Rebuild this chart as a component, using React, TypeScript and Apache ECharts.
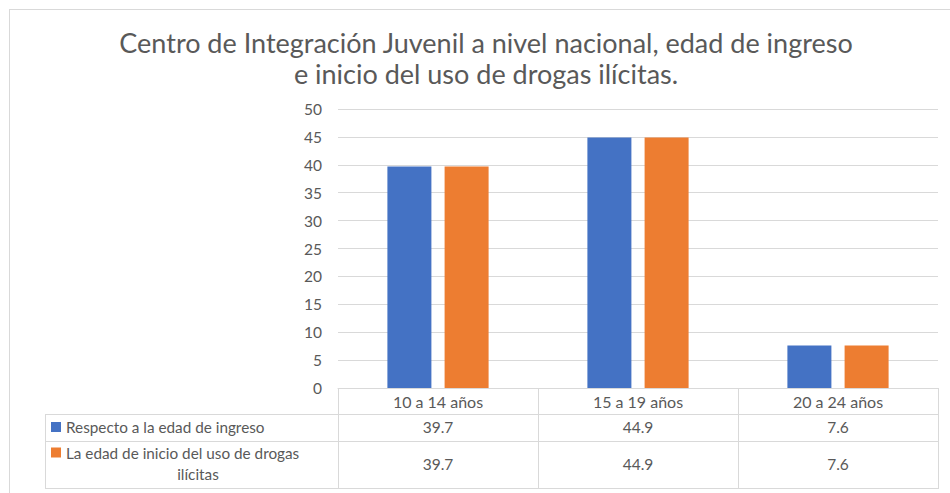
import React, { useEffect, useRef } from "react";
import * as echarts from "echarts";

const titleLines = [
  "Centro de Integración Juvenil a nivel nacional, edad de ingreso",
  "e inicio del uso de drogas ilícitas.",
];
const categories = ["10 a 14 años", "15 a 19 años", "20 a 24 años"];
const seriesNames = [
  "Respecto a la edad de ingreso",
  "La edad de inicio del uso de drogas ilícitas",
];
const ingreso = [39.7, 44.9, 7.6];
const inicio = [39.7, 44.9, 7.6];
const yTicks = { min: 0, max: 50, interval: 5 };

const FONT = "Lato, 'Noto Sans', sans-serif";
const TXT = "#595959";
const LINE = "#d9d9d9";
const COLORS = ["#4472C4", "#ED7D31"];

const W = 950;
const H = 493;
const GRID = { left: 338, top: 109, width: 600, height: 279 };
const TABLE_LEFT = 45;

export default function App() {
  const ref = useRef<HTMLDivElement>(null);
  useEffect(() => {
    if (!ref.current) return;
    const chart = echarts.init(ref.current, undefined, { renderer: "svg" });
    const gBottom = GRID.top + GRID.height;
    const gRight = GRID.left + GRID.width;
    const valueAxis = (vals: number[], offset: number) => ({
      type: "category",
      gridIndex: 0,
      position: "bottom",
      offset,
      data: categories,
      axisLine: { show: false },
      axisTick: { show: false },
      splitLine: { show: false },
      axisLabel: {
        margin: 4,
        fontFamily: FONT,
        fontSize: 15.5,
        lineHeight: 18,
        color: TXT,
        formatter: (_v: string, i: number) => String(vals[i]),
      },
    });
    const hLine = (x1: number, x2: number, y: number) => ({
      type: "line",
      shape: { x1, y1: y + 0.5, x2, y2: y + 0.5 },
      style: { stroke: LINE, lineWidth: 1 },
      silent: true,
    });
    const vLine = (x: number, y1: number, y2: number) => ({
      type: "line",
      shape: { x1: x + 0.5, y1, x2: x + 0.5, y2 },
      style: { stroke: LINE, lineWidth: 1 },
      silent: true,
    });
    chart.setOption({
      animation: false,
      backgroundColor: "#ffffff",
      color: COLORS,
      title: {
        text: titleLines.join("\n"),
        left: 486,
        textAlign: "center",
        top: 27,
        padding: 0,
        textStyle: {
          fontFamily: FONT,
          fontSize: 27,
          fontWeight: "normal",
          color: TXT,
          lineHeight: 31,
        },
      },
      legend: [
        {
          data: [seriesNames[0]],
          orient: "vertical",
          left: 51,
          top: 418,
          padding: 0,
          itemWidth: 10,
          itemHeight: 10,
          icon: "rect",
          selectedMode: false,
          textStyle: { fontFamily: FONT, fontSize: 15.3, color: TXT, lineHeight: 18 },
        },
        {
          data: [seriesNames[1]],
          orient: "vertical",
          left: 51,
          top: 421,
          padding: 0,
          itemWidth: 10,
          itemHeight: 10,
          icon: "rect",
          selectedMode: false,
          formatter: (name: string) => {
            const words = name.split(" ");
            const last = words.pop();
            return `{a|${words.join(" ")}}\n{b|${last}}`;
          },
          textStyle: {
            fontFamily: FONT,
            fontSize: 15.3,
            color: TXT,
            lineHeight: 21,
            padding: [21, 0, 0, 0],
            rich: {
              a: { fontFamily: FONT, fontSize: 15.3, color: TXT, lineHeight: 21 },
              b: {
                fontFamily: FONT,
                fontSize: 15.3,
                color: TXT,
                lineHeight: 21,
                width: 264,
                align: "center",
              },
            },
          },
        },
      ],
      grid: { ...GRID, containLabel: false },
      xAxis: [
        {
          type: "category",
          gridIndex: 0,
          position: "bottom",
          data: categories,
          axisLine: { show: true, lineStyle: { color: LINE, width: 1 } },
          axisTick: { show: true, length: 100, lineStyle: { color: LINE, width: 1 } },
          splitLine: { show: false },
          axisLabel: {
            margin: 4,
            fontFamily: FONT,
            fontSize: 16,
            lineHeight: 18,
            color: TXT,
          },
        },
        valueAxis(ingreso, 26),
        valueAxis(inicio, 63),
      ],
      yAxis: {
        type: "value",
        min: yTicks.min,
        max: yTicks.max,
        interval: yTicks.interval,
        axisLine: { show: false },
        axisTick: { show: false },
        splitLine: { lineStyle: { color: LINE, width: 1 } },
        axisLabel: { margin: 16, fontFamily: FONT, fontSize: 15.5, color: TXT },
      },
      series: [
        {
          name: seriesNames[0],
          type: "bar",
          data: ingreso,
          barWidth: 44,
          barGap: "30%",
          itemStyle: { color: COLORS[0] },
        },
        {
          name: seriesNames[1],
          type: "bar",
          data: inicio,
          barWidth: 44,
          barGap: "30%",
          itemStyle: { color: COLORS[1] },
        },
      ],
      graphic: [
        vLine(9, 9, H),
        hLine(9, W, 9),
        hLine(TABLE_LEFT, gRight + 1, gBottom + 26),
        hLine(TABLE_LEFT, gRight + 1, gBottom + 53),
        hLine(TABLE_LEFT, gRight + 1, gBottom + 100),
        vLine(TABLE_LEFT, gBottom + 26, gBottom + 100.5),
      ],
    });
    return () => chart.dispose();
  }, []);
  return (
    <div
      ref={ref}
      style={{ position: "absolute", left: 0, top: 0, width: W, height: H, background: "#fff" }}
    />
  );
}
